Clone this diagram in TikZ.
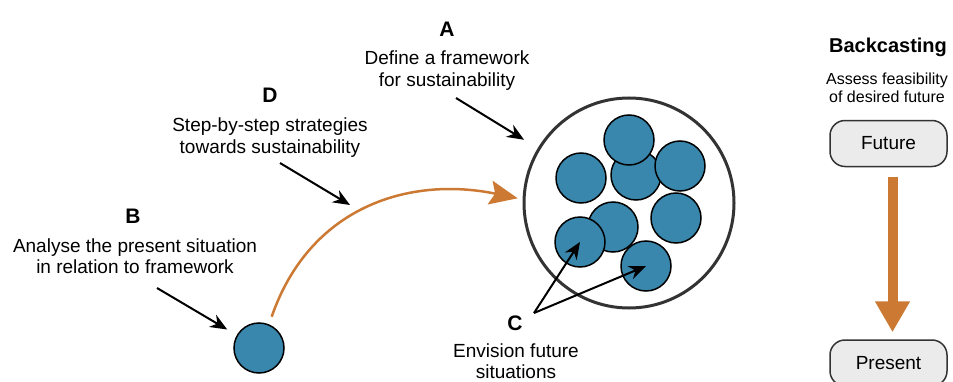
\documentclass[tikz,border=0pt]{standalone}
\usepackage{fontspec}
\setmainfont{Liberation Sans}
\usetikzlibrary{arrows.meta}

\definecolor{dotblue}{RGB}{58,135,173}
\definecolor{arcorange}{RGB}{204,122,51}
\definecolor{boxgray}{RGB}{235,235,235}

\tikzset{
  dot/.style={circle, draw=black, fill=dotblue, line width=1.5pt, minimum size=50pt, inner sep=0pt},
  lbl/.style={anchor=base, font=\fontsize{21}{25}\selectfont\bfseries},
  txt/.style={anchor=base, font=\fontsize{19}{22}\selectfont},
  smalltxt/.style={anchor=base, font=\fontsize{16}{19}\selectfont},
  pointer/.style={-{Stealth[length=17pt,width=14pt]}, line width=2pt},
  statebox/.style={rectangle, rounded corners=15pt, draw=black!80, fill=boxgray, line width=1.5pt,
    minimum width=117pt, minimum height=46pt, font=\fontsize{19}{22}\selectfont}
}

\begin{document}
\begin{tikzpicture}[x=1pt, y=1pt]
  \useasboundingbox (0,0) rectangle (953,381);

  \coordinate (vision_c) at (629,178);
  \coordinate (now_c) at (259,33);
  \coordinate (A_tail) at (456,283);
  \coordinate (D_tail) at (280,218);
  \coordinate (D_tip) at (350,176);
  \coordinate (B_tail) at (157,93);
  \coordinate (C_tip) at (534,68);

  \node[circle, draw=black!80, line width=3pt, minimum size=210pt, inner sep=0pt] (vision) at (vision_c) {};

  \node[dot] (s2) at (636,206) {};
  \node[dot] (s1) at (629,241) {};
  \node[dot] (s3) at (680,215) {};
  \node[dot] (s4) at (581,203) {};
  \node[dot] (s5) at (676,163) {};
  \node[dot] (s6) at (613,154) {};
  \node[dot] (s7) at (580,139) {};
  \node[dot] (s8) at (646,115) {};

  \node[dot] (now) at (now_c) {};

  \draw[arcorange, line width=2.5pt, -{Stealth[length=28pt,width=24pt,inset=5pt]}, shorten <=8pt, shorten >=5pt]
    (now.67) .. controls (310,175) and (410,205) .. (vision.178);

  % labels
  \node[lbl] (A) at (447,344) {A};
  \node[txt] (A1) at (447,316) {Define a framework};
  \node[txt] (A2) at (447,294) {for sustainability};

  \node[lbl] (D) at (270,279) {D};
  \node[txt] (D1) at (270,250) {Step-by-step strategies};
  \node[txt] (D2) at (270,228) {towards sustainability};

  \node[lbl] (B) at (133,158) {B};
  \node[txt] (B1) at (135,129) {Analyse the present situation};
  \node[txt] (B2) at (135,108) {in relation to framework};

  \node[lbl] (C) at (515,51) {C};
  \node[txt] (C1) at (516,24) {Envision future};
  \node[txt] (C2) at (516,3) {situations};

  \draw[pointer, shorten >=16pt] (A_tail) -- (vision.149);
  \draw[pointer] (D_tail) -- (D_tip);
  \draw[pointer, shorten >=11pt] (B_tail) -- (now.150);
  \draw[pointer] (C_tip) -- (s7.center);
  \draw[pointer] (C_tip) -- (s8.center);

  % backcasting
  \node[anchor=base, font=\fontsize{20}{24}\selectfont\bfseries] (bc) at (888,328) {Backcasting};
  \node[smalltxt] (bc1) at (887,296) {Assess feasibility};
  \node[smalltxt] (bc2) at (887,278) {of desired future};

  \node[statebox] (fut) at (888.5,237.5) {Future};
  \node[statebox] (pres) at (888.5,18) {Present};

  \draw[arcorange, line width=10pt, -{Triangle[length=31pt,width=33pt]}, shorten <=10pt, shorten >=7pt]
    ([xshift=4pt]fut.south) -- ([xshift=4pt]pres.north);
\end{tikzpicture}
\end{document}
